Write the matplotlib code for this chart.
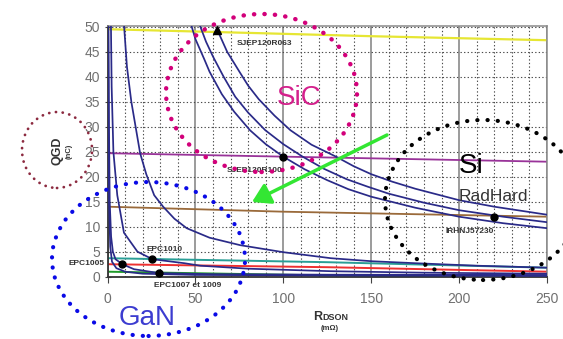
import numpy as np
import matplotlib
matplotlib.use('Agg')
import matplotlib.pyplot as plt
from matplotlib.patches import Ellipse, FancyArrowPatch

plt.rcParams['font.family'] = ['Liberation Sans', 'DejaVu Sans']

# courbes QGD (nC) en fonction de RDSON (mOhm)
# GaN
gan1_r = [0.3, 0.5, 0.8, 1.5, 2.5, 5, 10, 20, 50, 127, 250]
gan1_q = [50.5, 30, 15, 6, 3.0, 1.7, 1.0, 0.6, 0.35, 0.25, 0.15]
gan2_r = [0.5, 0.8, 1.2, 2.0, 3.0, 4.5, 8.4, 15, 29.3, 60, 127, 250]
gan2_q = [50.5, 30, 15, 8, 5, 3.5, 2.5, 1.5, 0.72, 0.5, 0.4, 0.35]
gan3_r = [1.9, 2.3, 3.3, 5.5, 9.3, 17, 25.5, 43.6, 52.7, 80, 127, 180, 250]
gan3_q = [50.5, 38, 25, 16.3, 8.8, 5, 3.5, 2.7, 2.2, 1.6, 1.1, 0.8, 0.6]
gan4_r = [9.3, 11, 13.5, 18.5, 22, 26.5, 31.6, 38, 45, 58, 75.5, 100, 127, 150, 175, 210, 250]
gan4_q = [50.5, 42, 35, 24.7, 20.5, 16.3, 14, 11.6, 9.7, 7.8, 6.3, 4.9, 3.7, 3.1, 2.7, 2.2, 1.8]
# SiC
sic1_r = [47, 50, 55, 58, 65, 72, 81, 90, 100, 112, 125, 137, 150, 175, 200, 225, 250]
sic1_q = [51, 47.5, 43.5, 41, 36.5, 33, 29.3, 26.5, 24, 21.5, 19.3, 17.5, 16, 13.8, 12, 10.7, 9.7]
sic2_r = [51.7, 56, 60, 66, 72.6, 80, 89.7, 100, 111, 123, 136, 148, 160, 180, 200, 225, 250]
sic2_q = [51, 47, 44, 40, 36, 32.8, 29.3, 26.5, 24, 21.6, 19.5, 18, 16.6, 14.8, 13.3, 12, 10.9]
sic3_r = [62.5, 68, 75, 80, 86, 95, 104, 116, 130, 140, 150, 162, 175, 200, 220, 250]
sic3_q = [49.3, 45, 41, 38.2, 35.5, 32.2, 29.3, 26.4, 24, 22.1, 20.5, 19, 17.6, 15.3, 14, 12.4]

# lignes de couleur
jaune_r = [0, 87, 150, 250]
jaune_q = [49.5, 48.7, 48.1, 47.3]
violet_r = [0, 87, 250]
violet_q = [24.7, 24.1, 23.0]
marron_r = [0, 100, 250]
marron_q = [14, 13, 12]
turq_r = [0, 125, 250]
turq_q = [3.7, 2.9, 1.8]
rouge_r = [0, 125, 250]
rouge_q = [2.5, 1.9, 1.0]
vert_r = [0, 125, 200]
vert_q = [1.0, 0.25, 0.05]

# composants
comp_nom = ['EPC1005', 'EPC1010', 'EPC1007 et 1009', 'SJEP120R100', 'IRHNJ57230']
comp_r = [8.4, 25.5, 29.3, 100, 220]
comp_q = [2.5, 3.5, 0.7, 24, 12]
tri_nom = 'SJEP120R063'
tri_r = 62.5
tri_q = 49.3

W, H = 563, 339


def fpx(x, y):
    # pixels de l'image -> fraction de la figure
    return x / W, 1 - y / H


fig = plt.figure(figsize=(W / 100, H / 100), dpi=100)
ax = fig.add_axes([107.6 / W, 1 - 276.7 / H, (547 - 107.6) / W, 251 / H])

navy = '#2a2a88'
for r, q in [(gan1_r, gan1_q), (gan2_r, gan2_q), (gan3_r, gan3_q), (gan4_r, gan4_q),
             (sic1_r, sic1_q), (sic2_r, sic2_q), (sic3_r, sic3_q)]:
    ax.plot(r, q, color=navy, lw=1.25, zorder=3)

ax.plot(jaune_r, jaune_q, color='#e6e633', lw=1.6, zorder=2)
ax.plot(violet_r, violet_q, color='#993399', lw=1.3, zorder=2)
ax.plot(marron_r, marron_q, color='#9a6a3a', lw=1.3, zorder=2)
ax.plot(turq_r, turq_q, color='#2a9e96', lw=1.4, zorder=2)
ax.plot(rouge_r, rouge_q, color='#ee3030', lw=1.4, zorder=2)
ax.plot(vert_r, vert_q, color='#1f9a2a', lw=1.4, zorder=2)

ax.plot(comp_r, comp_q, 'o', color='black', ms=5, zorder=5)
ax.plot([tri_r], [tri_q], '^', color='black', ms=6, zorder=5, clip_on=False)

# etiquettes des composants
kw = dict(fontsize=6, fontweight='bold', color='#333333', va='center', zorder=6)
ax.text(73.6, 46.7, tri_nom, ha='left', **kw)
ax.text(67.9, 21.3, comp_nom[3], ha='left', **kw)
ax.text(192, 9.0, comp_nom[4], ha='left', **kw)
ax.text(22.4, 5.5, comp_nom[1], ha='left', **kw)
ax.text(-1.5, 2.7, comp_nom[0], ha='right', clip_on=False, **kw)
ax.text(26.4, -1.7, comp_nom[2], ha='left', clip_on=False, **kw)

ax.set_xlim(0, 250)
ax.set_ylim(0, 50.2)
ax.set_xticks(np.arange(0, 251, 50))
ax.set_xticks(np.arange(0, 251, 10), minor=True)
ax.set_yticks(np.arange(0, 51, 5))
ax.set_axisbelow(True)
ax.grid(which='minor', axis='x', color='#4a4a4a', lw=0.8, linestyle=(0, (1.2, 2)))
ax.grid(which='major', axis='y', color='#4a4a4a', lw=0.8, linestyle=(0, (1.2, 2)))
ax.grid(which='major', axis='x', color='#8a8a8a', lw=1.2, linestyle='-')
ax.tick_params(which='minor', length=0)
ax.tick_params(axis='x', direction='out', length=4, pad=7, labelsize=10, labelcolor='#707070', color='#444444')
ax.tick_params(axis='y', direction='inout', length=5, pad=3, labelsize=10, labelcolor='#707070', color='#444444')
for s in ['top', 'right']:
    ax.spines[s].set_color('#8a8a8a')
    ax.spines[s].set_linewidth(1.1)
for s in ['left', 'bottom']:
    ax.spines[s].set_color('#333333')
    ax.spines[s].set_linewidth(1.3)

# titres des axes
fig.text(*fpx(57, 151), 'QGD', rotation=90, ha='center', va='center',
         fontsize=9, fontweight='bold', color='#333333')
fig.text(*fpx(69, 151), '(nC)', rotation=90, ha='center', va='center',
         fontsize=5.5, fontweight='bold', color='#333333')
fig.text(*fpx(322, 320), 'R', ha='right', va='baseline', fontsize=9, fontweight='bold', color='#333333')
fig.text(*fpx(322, 320), 'DSON', ha='left', va='baseline', fontsize=6.5, fontweight='bold', color='#333333')
fig.text(*fpx(330, 329), '(m\u03a9)', ha='center', va='center', fontsize=5.5, fontweight='bold', color='#333333')

# ellipses en pointilles
def ellipse(cx, cy, w, h, col, lw, gap):
    e = Ellipse(fpx(cx, cy), w / W, h / H, transform=fig.transFigure, fill=False,
                edgecolor=col, lw=lw, linestyle=(0, (0.05, gap)), capstyle='round', zorder=10)
    fig.add_artist(e)

ellipse(261.5, 93, 191, 158, '#d2007a', 3.2, 2.3)
ellipse(57, 150, 70, 76, '#8c2a40', 2.0, 2.4)
ellipse(148.5, 259, 193, 154, '#0a0ae6', 3.0, 2.4)
ellipse(483, 200, 196, 160, 'black', 3.0, 2.4)

fig.text(*fpx(299, 98), 'SiC', ha='center', va='center', fontsize=20, color='#d4208c')
fig.text(*fpx(147, 318), 'GaN', ha='center', va='center', fontsize=20, color='#3c3cd0')
fig.text(*fpx(471, 166), 'Si', ha='center', va='center', fontsize=20, color='black')
fig.text(*fpx(493, 196), 'RadHard', ha='center', va='center', fontsize=12.5, color='#333333')

fleche = FancyArrowPatch(fpx(387, 135), fpx(252, 202), transform=fig.transFigure,
                         arrowstyle='-|>,head_length=0.9,head_width=0.55', mutation_scale=12,
                         color='#33e633', lw=2.5, shrinkA=0, shrinkB=0, zorder=11)
fig.add_artist(fleche)

fig.savefig('out.png', dpi=100)
